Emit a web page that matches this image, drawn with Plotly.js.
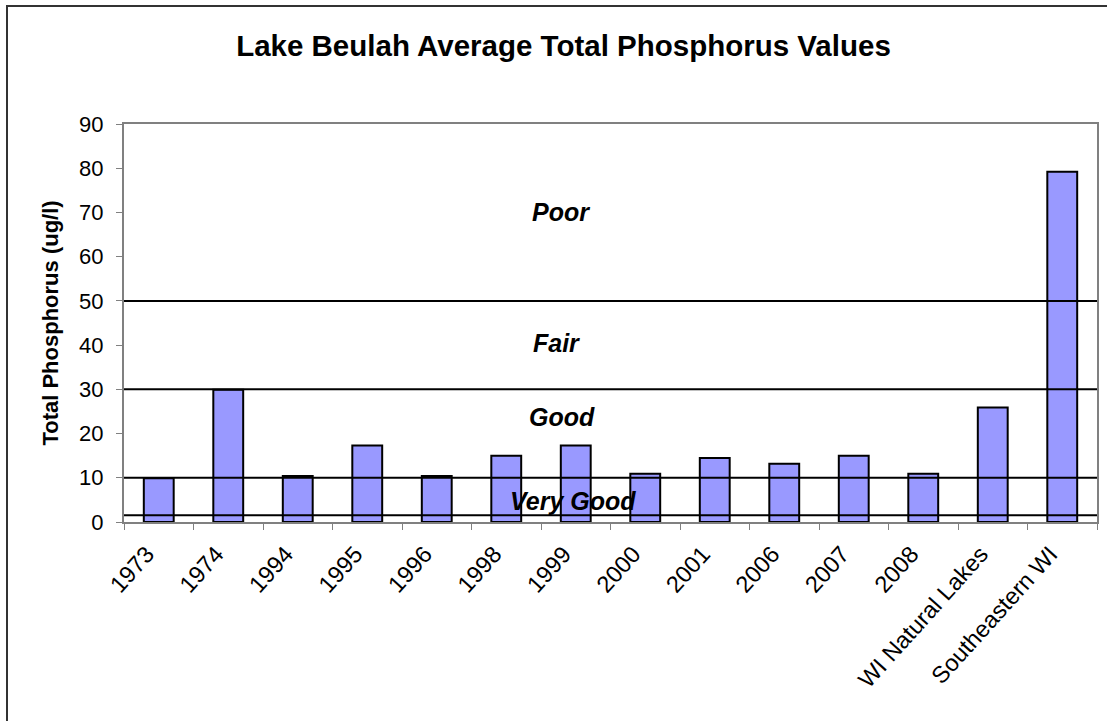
<!DOCTYPE html>
<html>
<head>
<meta charset="utf-8">
<script src="https://cdn.plot.ly/plotly-3.0.1.min.js"></script>
<style>
    html, body { margin: 0; padding: 0; background: #fff; overflow: hidden; }
    #wrap { position: relative; width: 1107px; height: 721px; }
    #chart { width: 1107px; height: 721px; }
    /* chart-area frame, only its left and top edges fall inside the picture */
    #frame {
        position: absolute; left: 6px; top: 5px; width: 1300px; height: 900px;
        border-left: 2px solid #333; border-top: 2px solid #333;
        pointer-events: none;
    }
</style>
</head>
<body>
<div id="wrap">
    <div id="chart"></div>
    <div id="frame"></div>
</div>
<script>
// =========================================================================
// Lake Beulah - average total phosphorus, with trophic class bands
// =========================================================================

const categories = ['1973', '1974', '1994', '1995', '1996', '1998', '1999', '2000',
    '2001', '2006', '2007', '2008', 'WI Natural Lakes', 'Southeastern WI'];
const phosphorus = [9.9, 29.9, 10.4, 17.3, 10.4, 15.0, 17.3, 10.9,
    14.5, 13.2, 15.0, 10.9, 25.9, 79.2];

// class boundaries drawn as horizontal lines
const thresholds = [1.5, 10, 30, 50];

// class labels and where they sit (value on the y axis)
const classNames = ['Poor', 'Fair', 'Good', 'Very Good'];
const classLevels = [70, 40.5, 23.8, 4.8];
const classX = [0.449, 0.445, 0.450, 0.461];

const FONT = '"Liberation Sans", Arial, sans-serif';

const data = [
    {
        type: 'bar',
        x: categories,
        y: phosphorus,
        marker: {
            color: '#9999FF',
            line: { color: '#000000', width: 2 }
        },
        hoverinfo: 'x+y'
    }
];

const layout = {
    width: 1107,
    height: 721,
    paper_bgcolor: '#ffffff',
    plot_bgcolor: '#ffffff',
    showlegend: false,
    bargap: 0.57,
    font: { family: FONT, color: '#000000', size: 22 },
    margin: { l: 124, r: 10, t: 124, b: 199 },
    title: {
        text: '<b>Lake Beulah Average Total Phosphorus Values</b>',
        font: { family: FONT, size: 29.5, color: '#000000' },
        xref: 'container',
        yref: 'container',
        x: 0.509,
        y: 0.937,
        xanchor: 'center',
        yanchor: 'middle'
    },
    xaxis: {
        type: 'category',
        tickangle: -48,
        tickson: 'boundaries',
        ticks: 'outside',
        ticklen: 6,
        tickcolor: '#808080',
        ticklabelstandoff: 7,
        ticklabelshift: -12,
        tickfont: { family: FONT, size: 23.5, color: '#000000' },
        showline: true,
        linecolor: '#808080',
        linewidth: 2,
        mirror: true,
        showgrid: false,
        zeroline: false,
        fixedrange: true
    },
    yaxis: {
        range: [0, 90],
        dtick: 10,
        ticks: 'outside',
        ticklen: 6,
        tickcolor: '#808080',
        ticklabelstandoff: 8,
        tickfont: { family: FONT, size: 22, color: '#000000' },
        showline: true,
        linecolor: '#808080',
        linewidth: 2,
        mirror: true,
        showgrid: false,
        zeroline: false,
        fixedrange: true,
        title: {
            text: '<b>Total Phosphorus (ug/l)</b>',
            font: { family: FONT, size: 22, color: '#000000' },
            standoff: 14
        }
    },
    shapes: thresholds.map((v) => ({
        type: 'line',
        xref: 'paper',
        yref: 'y',
        x0: 0,
        x1: 1,
        y0: v,
        y1: v,
        layer: 'above',
        line: { color: '#000000', width: 2 }
    })),
    annotations: classNames.map((name, i) => ({
        text: '<b><i>' + name + '</i></b>',
        xref: 'paper',
        yref: 'y',
        x: classX[i],
        y: classLevels[i],
        xanchor: 'center',
        yanchor: 'middle',
        showarrow: false,
        font: { family: FONT, size: 25, color: '#000000' }
    }))
};

const config = {
    displayModeBar: false,
    staticPlot: true
};

Plotly.newPlot('chart', data, layout, config);
</script>
</body>
</html>
